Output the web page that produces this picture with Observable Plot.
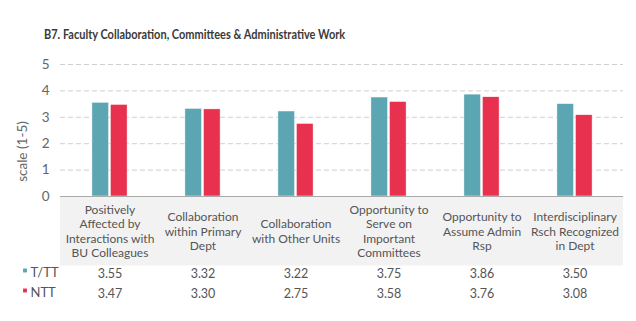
<!DOCTYPE html>
<html><head><meta charset="utf-8">
<script src="https://cdn.jsdelivr.net/npm/d3@7"></script>
<script src="https://cdn.jsdelivr.net/npm/@observablehq/plot@0.6"></script>
<style>
body{margin:0;background:#fff;width:636px;height:321px;overflow:hidden;position:relative;font-family:Lato,sans-serif}
#title{position:absolute;left:44px;top:25px;font-size:14px;font-weight:700;color:#3a3a3a;transform:scaleX(0.785);transform-origin:left top;white-space:nowrap}
#chart{position:absolute;left:0;top:0}
</style></head>
<body>
<div id="chart"></div>
<div id="title">B7. Faculty Collaboration, Committees &amp; Administrative Work</div>
<script>
const categories = [
  "Positively\nAffected by\nInteractions with\nBU Colleagues",
  "Collaboration\nwithin Primary\nDept",
  "Collaboration\nwith Other Units",
  "Opportunity to\nServe on\nImportant\nCommittees",
  "Opportunity to\nAssume Admin\nRsp",
  "Interdisciplinary\nRsch Recognized\nin Dept"
];
const seriesNames = ["T/TT", "NTT"];
const tttValues = [3.55, 3.32, 3.22, 3.75, 3.86, 3.50];
const nttValues = [3.47, 3.30, 2.75, 3.58, 3.76, 3.08];
const yTicks = [0, 1, 2, 3, 4, 5];
const colors = ["#5ba6b2", "#e8304f"];

const ttt = categories.map((c, i) => ({category: c, value: tttValues[i]}));
const ntt = categories.map((c, i) => ({category: c, value: nttValues[i]}));

const textColor = "#555";
const shadow = "drop-shadow(1px -1px 1.5px rgba(0,0,0,0.22))";

const legendMarks = seriesNames.flatMap((name, i) => [
  Plot.dot([name], {frameAnchor: "bottom-left", dx: -35.5, dy: 74 + i * 20, symbol: "square", r: 2.2, fill: colors[i], stroke: null}),
  Plot.text([name], {frameAnchor: "bottom-left", text: d => d, dx: -30, dy: 76 + i * 20, fill: textColor, fontSize: 13, textAnchor: "start", lineAnchor: "middle"})
]);

const chart = Plot.plot({
  width: 636,
  height: 321,
  marginLeft: 60,
  marginRight: 13,
  marginTop: 64,
  marginBottom: 125,
  style: {fontFamily: "Lato, sans-serif", fontSize: "13.5px", color: "#666", background: "transparent"},
  x: {domain: categories, padding: 0, axis: null},
  y: {domain: [0, 5], ticks: yTicks, tickSize: 0, tickPadding: 11, label: null, tickFormat: d3.format("d")},
  marks: [
    Plot.ruleY([0], {stroke: "#f2f2f2", strokeWidth: 69, dy: 34.5}),
    Plot.ruleY(yTicks.filter(d => d > 0), {stroke: "#cfcfcf", strokeDasharray: "5,3", strokeWidth: 1}),
    Plot.barY(ttt, {x: "category", y: "value", fill: colors[0], stroke: "#fff", strokeWidth: 0.5, insetLeft: 28.9, insetRight: 47.4, style: {filter: shadow}}),
    Plot.barY(ntt, {x: "category", y: "value", fill: colors[1], stroke: "#fff", strokeWidth: 0.5, insetLeft: 47.4, insetRight: 28.9, style: {filter: shadow}}),
    Plot.ruleY([0], {stroke: "#aaa", strokeWidth: 1}),
    Plot.text(["scale (1-5)"], {frameAnchor: "middle", rotate: -90, dx: -319.5, dy: 21, textAnchor: "middle", lineAnchor: "middle", fill: "#666", fontSize: 13.5}),
    Plot.text(categories, {x: d => d, text: d => d, frameAnchor: "bottom", dy: 34.5, lineAnchor: "middle", lineHeight: 1.2, fill: textColor, fontSize: 12}),
    Plot.text(ttt, {x: "category", text: d => d.value.toFixed(2), frameAnchor: "bottom", dy: 77, lineAnchor: "middle", fill: textColor, fontSize: 12.5}),
    Plot.text(ntt, {x: "category", text: d => d.value.toFixed(2), frameAnchor: "bottom", dy: 97, lineAnchor: "middle", fill: textColor, fontSize: 12.5}),
    ...legendMarks
  ]
});

document.getElementById("chart").appendChild(chart);
</script>
</body></html>
